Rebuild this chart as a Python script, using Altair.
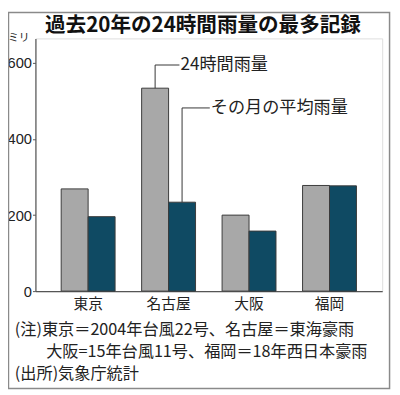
import altair as alt
import pandas as pd

cities = ["東京", "名古屋", "大阪", "福岡"]
series = ["24時間雨量", "その月の平均雨量"]
max_24h = [269, 534, 200, 278]
monthly_avg = [196, 234, 158, 277]
colors = ["#a8a8a8", "#0f4a63"]
yticks = [0, 200, 400, 600]

title_text = "過去20年の24時間雨量の最多記録"
unit_text = "ミリ"
notes = [
    "(注)東京＝2004年台風22号、名古屋＝東海豪雨",
    "大阪=15年台風11号、福岡＝18年西日本豪雨",
    "(出所)気象庁統計",
]

# annotation label levels (in data units)
label_levels = [595, 482]

rows = []
for i, c in enumerate(cities):
    rows.append({"city": c, "series": series[0], "value": max_24h[i]})
    rows.append({"city": c, "series": series[1], "value": monthly_avg[i]})
df = pd.DataFrame(rows)

lead = pd.DataFrame({
    "city": ["名古屋", "名古屋"],
    "series": series,
    "value": [max_24h[1], monthly_avg[1]],
    "level": label_levels,
    "label": series,
})

JP = "Noto Sans CJK JP"
NUM = "Liberation Sans"
TXT = "#222222"
AX = "#555555"

xenc = alt.X("city:N", sort=cities,
             scale=alt.Scale(paddingInner=0.33, paddingOuter=0.32),
             axis=alt.Axis(title=None, labelAngle=0, ticks=False, labelPadding=6,
                           labelFont=JP, labelFontSize=15, labelColor=TXT,
                           domainColor=AX, domainWidth=1.2))
xoff = alt.XOffset("series:N", sort=series,
                   scale=alt.Scale(paddingInner=0, paddingOuter=0))
yscale = alt.Scale(domain=[0, 665], nice=False)

bars = alt.Chart(df).mark_bar(stroke="#3a3a3a", strokeWidth=1).encode(
    x=xenc,
    xOffset=xoff,
    y=alt.Y("value:Q", scale=yscale,
            axis=alt.Axis(title=None, values=yticks, grid=False, tickSize=3,
                          tickColor=AX, domainColor=AX, domainWidth=1.2,
                          labelFont=NUM, labelFontSize=15, labelColor=TXT,
                          labelPadding=1)),
    color=alt.Color("series:N", sort=series,
                    scale=alt.Scale(domain=series, range=colors), legend=None),
)

vert = alt.Chart(lead).mark_rule(color="#333333", strokeWidth=1).encode(
    x=alt.X("city:N", sort=cities),
    xOffset=alt.XOffset("series:N", sort=series),
    y=alt.Y("value:Q", scale=yscale),
    y2="level:Q",
)

text_x = [148, 179]
layers = [bars, vert]
for i, s in enumerate(series):
    sub = lead[lead["series"] == s]
    h = alt.Chart(sub).mark_rule(color="#333333", strokeWidth=1).encode(
        x=alt.X("city:N", sort=cities),
        xOffset=alt.XOffset("series:N", sort=series),
        x2=alt.value(text_x[i] - 1),
        y=alt.Y("level:Q", scale=yscale),
    )
    t = alt.Chart(sub).mark_text(align="left", baseline="middle", font=JP,
                                 fontSize=17.5, color=TXT).encode(
        x=alt.value(text_x[i]),
        y=alt.Y("level:Q", scale=yscale),
        text="label:N",
    )
    layers += [h, t]

one = pd.DataFrame({"k": [0]})

title = alt.Chart(one).mark_text(align="center", baseline="middle", font=JP,
                                 fontSize=21, fontWeight="bold", color="#111111").encode(
    x=alt.value(171), y=alt.value(-13), text=alt.value(title_text))
unit = alt.Chart(one).mark_text(align="left", baseline="middle", font=JP,
                                fontSize=11, color=TXT).encode(
    x=alt.value(-28), y=alt.value(0), text=alt.value(unit_text))

note_pos = [(-21, 298), (11, 320), (-21, 343)]
note_layers = []
for (nx, ny), n in zip(note_pos, notes):
    note_layers.append(
        alt.Chart(one).mark_text(align="left", baseline="middle", font=JP,
                                 fontSize=16.5, color=TXT).encode(
            x=alt.value(nx), y=alt.value(ny), text=alt.value(n)))

frame = alt.Chart(one).mark_rect(fill="transparent", stroke="#8a8a8a",
                                 strokeWidth=1.5).encode(
    x=alt.value(-27.5), x2=alt.value(361.5), y=alt.value(-26.5), y2=alt.value(357.5))

chart = alt.layer(*layers, title, unit, *note_layers, frame).properties(
    width=354, height=258,
    autosize=alt.AutoSizeParams(type="none"),
    padding={"left": 28, "top": 27, "right": 10, "bottom": 102},
).configure_view(strokeWidth=0).configure(background="white")

chart.save("out.html", embed_options={"renderer": "svg", "actions": False})
